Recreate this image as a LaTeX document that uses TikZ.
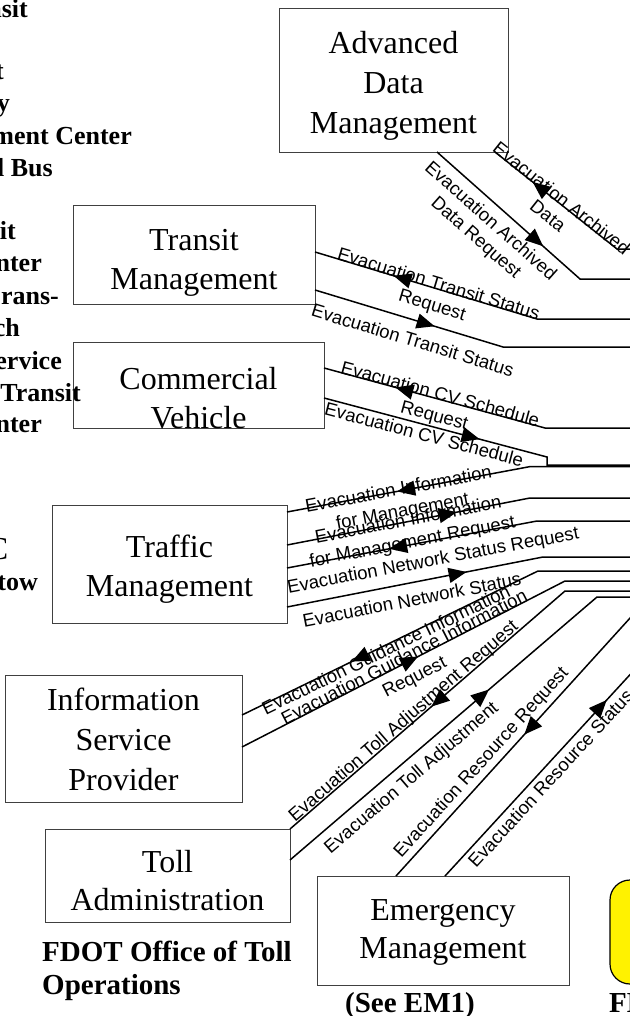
\documentclass[tikz,border=0pt]{standalone}
\usepackage{fontspec}
\setmainfont{Liberation Serif}
\setsansfont{Liberation Sans}
\usetikzlibrary{arrows.meta,decorations.markings}
\newcommand{\boxfont}{\fontsize{32}{38.5}\selectfont}
\newcommand{\boxfontB}{\fontsize{32}{40}\selectfont}
\newcommand{\labfont}{\sffamily\fontsize{18.5}{22}\selectfont}
\newcommand{\sidefont}{\bfseries\fontsize{26}{32}\selectfont}
\newcommand{\notefont}{\bfseries\fontsize{29}{33}\selectfont}
\begin{document}
\begin{tikzpicture}[x=1pt,y=1pt,
  box/.style={draw=black!75, line width=0.9pt, fill=white, inner sep=0pt, outer sep=0pt},
  btext/.style={font=\boxfont, align=center, inner sep=0pt},
  conn/.style={line width=1.5pt, draw=black},
  lab/.style={sloped, font=\labfont, align=center, inner sep=0pt, anchor=north},
  tipF/.style={postaction={decorate, decoration={markings, mark=at position #1 with {\arrow{Triangle[length=18pt,width=15pt]}}}}},
  tipB/.style={postaction={decorate, decoration={markings, mark=at position #1 with {\arrowreversed{Triangle[length=18pt,width=15pt]}}}}},
  frag/.style={font=\sidefont, anchor=base east, inner sep=0pt},
  note/.style={font=\notefont, inner sep=0pt},
]
\useasboundingbox (0,0) rectangle (629,-1016);

% side texts
\node[frag] (f1) at (28,-18) {nsit};
\node[frag] (f2) at (4,-80) {t};
\node[frag] (f3) at (10,-112) {y};
\node[frag] (f4) at (132,-145) {ment Center};
\node[frag] (f5) at (53,-177) {l Bus};
\node[frag] (g1) at (16,-240) {it};
\node[frag] (g2) at (42,-271) {nter};
\node[frag] (g3) at (59,-304) {rans-};
\node[frag] (g4) at (20,-336) {ch};
\node[frag] (g5) at (62,-369) {ervice};
\node[frag] (g7) at (42,-432) {nter};
\node[frag, font=\boxfont\mdseries] (hC) at (8.5,-559) {C};
\node[frag] (htow) at (38,-590) {tow};

% boxes
\node[box, minimum width=229pt, minimum height=144pt] (ADM) at (393.5,-80) {};
\node[btext, font=\boxfontB] (ADMt) at (393.5,-86) {Advanced\\Data\\Management};
\node[box, minimum width=242pt, minimum height=99pt] (TM) at (194,-254.5) {};
\node[btext] (TMt) at (194,-263) {Transit\\Management};
\node[box, minimum width=251pt, minimum height=86pt] (CV) at (198.5,-385) {};
\node[btext] (CVt) at (198.5,-398) {Commercial\\Vehicle};
\node[frag] (g6) at (81,-401) {Transit};
\node[box, minimum width=235pt, minimum height=118pt] (TRM) at (169.5,-564) {};
\node[btext] (TRMt) at (169.5,-569) {Traffic\\Management};
\node[box, minimum width=237pt, minimum height=127pt] (ISP) at (123.5,-738.5) {};
\node[btext, font=\boxfontB] (ISPt) at (123.5,-739.5) {Information\\Service\\Provider};
\node[box, minimum width=245pt, minimum height=93pt] (TA) at (167.5,-875.5) {};
\node[btext] (TAt) at (167.5,-880.5) {Toll\\Administration};
\node[box, minimum width=252pt, minimum height=109pt] (EM) at (443,-930.5) {};
\node[btext] (EMt) at (443,-932.5) {Emergency\\Management};
\node[draw=black, line width=1.2pt, fill=yellow, rounded corners=20pt, minimum width=100pt, minimum height=104pt, inner sep=0pt] (FD) at (660,-932) {};

% notes
\node[note, anchor=north west, align=left] (n1) at (42,-941) {FDOT Office of Toll\\Operations};
\node[note, anchor=base] (n2) at (410,-1012) {(See EM1)};
\node[note, anchor=base west] (n3) at (609,-1012) {FDO};

% coordinates
\coordinate (k1) at (617,-249);  \coordinate (e1) at (640,-249);
\coordinate (k2) at (580,-279);  \coordinate (e2) at (640,-279);
\coordinate (k3) at (537,-319);  \coordinate (e3) at (640,-319);
\coordinate (k4) at (503,-347);  \coordinate (e4) at (640,-347);
\coordinate (k5) at (545,-428);  \coordinate (e5) at (640,-428);
\coordinate (k6) at (547,-457);  \coordinate (j6) at (547,-465); \coordinate (e6) at (640,-465);
\coordinate (k7) at (530,-466.6);\coordinate (e7) at (640,-466.6);
\coordinate (k8) at (530,-498);  \coordinate (e8) at (640,-498);
\coordinate (k9) at (537,-521);  \coordinate (e9) at (640,-521);
\coordinate (k10) at (543,-557); \coordinate (e10) at (640,-557);
\coordinate (k11) at (538,-571); \coordinate (e11) at (640,-571);
\coordinate (k12) at (565,-581); \coordinate (e12) at (640,-581);
\coordinate (k13) at (565,-591); \coordinate (e13) at (640,-591);
\coordinate (k14) at (597,-597); \coordinate (e14) at (640,-597);
\coordinate (e15) at (660,-585);
\coordinate (e16) at (660,-642);

% connectors
\draw[conn, tipB=48pt] ([xshift=216pt]ADM.south west) -- node[lab, pos=.52, yshift=13pt]{Evacuation Archived\\Data} (k1) -- (e1);
\draw[conn, tipF=142pt] ([xshift=158pt]ADM.south west) -- node[lab, pos=.45, yshift=-7.5pt]{Evacuation Archived\\Data Request} (k2) -- (e2);
\draw[conn, tipB=82pt] ([yshift=-47pt]TM.north east) -- node[lab, pos=.55, yshift=13.3pt]{Evacuation Transit Status\\Request} (k3) -- (e3);
\draw[conn, tipF=125pt] ([yshift=-85pt]TM.north east) -- node[lab, pos=.55, yshift=-11.9pt]{Evacuation Transit Status} (k4) -- (e4);
\draw[conn, tipB=74pt] ([yshift=-26pt]CV.north east) -- node[lab, pos=.52, yshift=13.3pt]{Evacuation CV Schedule\\Request} (k5) -- (e5);
\draw[conn, tipF=161pt] ([yshift=-56pt]CV.north east) -- node[lab, pos=.46, yshift=-2pt]{Evacuation CV Schedule} (k6) -- (j6) -- (e6);
\draw[conn, tipB=112pt] ([yshift=-7pt]TRM.north east) -- node[lab, pos=.46, yshift=10pt]{Evacuation Information\\for Management} (k7) -- (e7);
\draw[conn, tipF=173pt] ([yshift=-40pt]TRM.north east) -- node[lab, pos=.50, yshift=10pt]{Evacuation Information\\for Management Request} (k8) -- (e8);
\draw[conn, tipB=104pt] ([yshift=-63pt]TRM.north east) -- node[lab, pos=.57, yshift=-11pt]{Evacuation Network Status Request} (k9) -- (e9);
\draw[conn, tipF=183pt] ([yshift=-102pt]TRM.north east) -- node[lab, pos=.475, yshift=-9.3pt]{Evacuation Network Status} (k10) -- (e10);
\draw[conn, tipB=122pt] ([yshift=-40pt]ISP.north east) -- node[lab, pos=.48, yshift=3.5pt]{Evacuation Guidance Information} (k11) -- (e11);
\draw[conn, tipF=198pt] ([yshift=-72pt]ISP.north east) -- node[lab, pos=.51, yshift=13.8pt]{Evacuation Guidance Information\\Request} (k12) -- (e12);
\draw[conn, tipB=187pt] (TA.north east) -- node[lab, pos=.43, yshift=16pt]{Evacuation Toll Adjustment Request} (k13) -- (e13);
\draw[conn, tipF=262pt] ([yshift=-31pt]TA.north east) -- node[lab, pos=.36, yshift=-8pt]{Evacuation Toll Adjustment} (k14) -- (e14);
\draw[conn, tipB=191pt] ([xshift=79pt]EM.north west) -- node[lab, pos=.36, yshift=22pt]{Evacuation Resource Request} (e15);
\draw[conn, tipF=239pt] ([xshift=128pt]EM.north west) -- node[lab, pos=.45, yshift=-4pt]{Evacuation Resource Status} (e16);
\end{tikzpicture}
\end{document}
